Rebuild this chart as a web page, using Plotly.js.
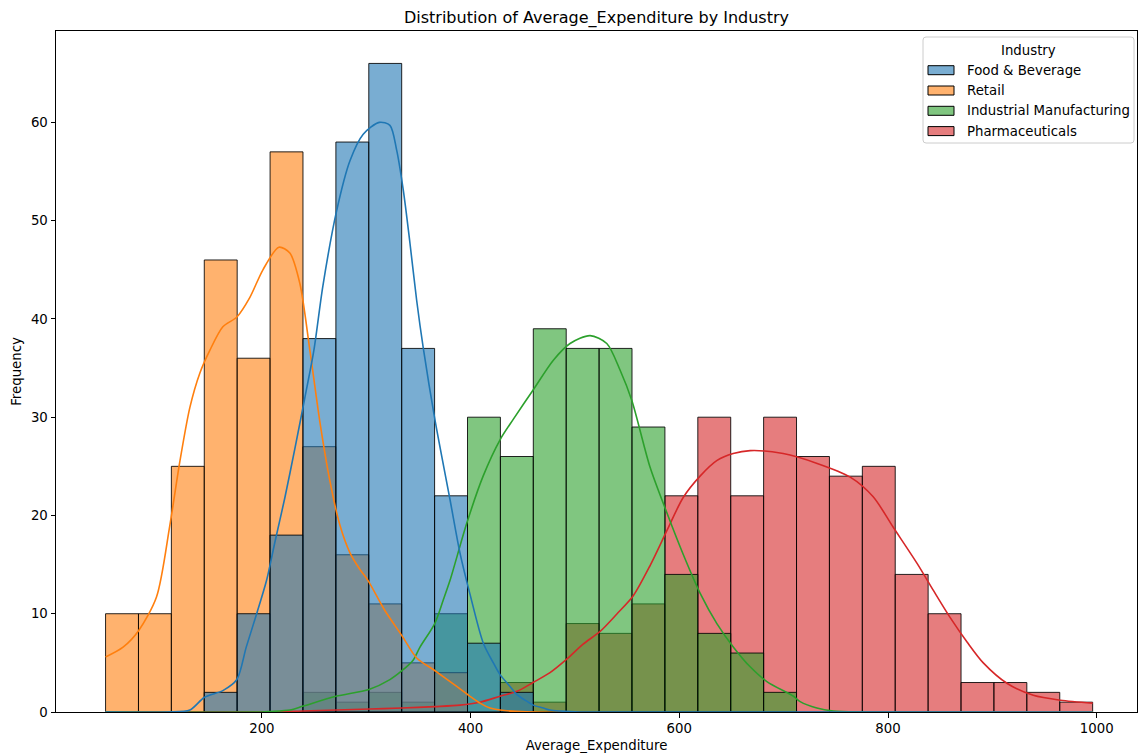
<!DOCTYPE html>
<html><head><meta charset="utf-8">
<script src="https://cdn.plot.ly/plotly-3.0.1.min.js"></script>
<style>html,body{margin:0;padding:0;background:#fff;} #chart{width:1138px;height:756px;}</style>
</head><body><div id="chart"></div>
<script>
// ---------- data ----------
const industries = ['Food & Beverage', 'Retail', 'Industrial Manufacturing', 'Pharmaceuticals'];
const binStart = 50.2;
const binWidth = 31.53;
const foodCounts   = [0,0,0,2,10,18,38,58,66,37,22,7,2,0,0,0,0,0,0,0,0,0,0,0,0,0,0,0,0,0];
const retailCounts = [10,10,25,46,36,57,27,16,11,5,4,0,0,0,0,0,0,0,0,0,0,0,0,0,0,0,0,0,0,0];
const industrialCounts = [0,0,0,0,0,0,2,1,2,1,10,30,26,39,37,37,29,14,8,6,2,0,0,0,0,0,0,0,0,0];
const pharmaCounts = [0,0,0,0,0,0,0,0,0,0,0,0,3,1,9,8,11,22,30,22,30,26,24,25,14,10,3,3,2,1];

const foodKdeX = [50,110,131,145,163,176,185,195,204.5,212.5,222,231.6,241.2,249.8,258.5,271.6,284.4,297.1,312.5,322.7,329.1,335.5,341.9,348.3,354.7,365.9,380.3,389.8,399.4,412.2,421.8,428.2,437.8,444.2,453.8,460.1,469.7,476.1,485.7,505,996.1];
const foodKdeY = [0,0,0.2,1.5,2.2,3.3,6.6,10,13.4,17.3,21.8,26.8,32,36.8,43.4,51,56.1,58.8,60,59.7,57.2,53.1,47.7,41.9,37,29.7,21.6,16.2,12,7,5,3.8,2.6,1.8,1.1,0.7,0.4,0.2,0.1,0,0];

const retailKdeX = [50.2,67,82,99,111.8,121.4,131,140.6,150.1,162.6,176,188.5,201,216.3,226.8,236.4,246,255.6,265.2,274.8,284.4,294,301.6,318,334,348.3,365.9,386.7,399.4,409,418.6,428.2,454,996.1];
const retailKdeY = [5.6,6.6,8.3,11.7,19,25.5,31,34.5,36.8,39.2,40.2,42.2,45,47.3,46.7,43.6,36.8,29.5,23.5,19,16.2,14.5,13.4,10.3,7.8,5.5,4.2,2.6,1.6,0.9,0.4,0.2,0.02,0];

const industrialKdeX = [50,200,207.7,226.8,239.6,270.9,302.6,322.7,334.2,345.1,351.5,365.6,373.8,380.3,396.3,412,428.2,441,460.1,479.3,495.3,514.5,530.5,543.2,554.5,572,588,603.9,619.9,636,651.9,667.9,683.9,709.4,715.8,731.8,747.7,773,996.1];
const industrialKdeY = [0,0,0.05,0.2,0.6,1.6,2.3,3.3,4.2,5.3,6.6,9,11.4,13.4,19.2,24,27.7,29.8,32.8,35.8,37.5,38.3,37.5,34.8,31.7,24.9,20.3,16,12.1,9,6.6,4.6,3.1,1.6,1.05,0.4,0.1,0,0];

const pharmaKdeX = [50,207.7,239.3,303.5,334.2,365.6,389.8,409,428.2,444.5,459.8,476.1,492.4,507.8,524.1,540.4,555.7,572,588.3,603.6,619.9,636.2,651.6,667.9,699.5,732.1,763.8,785.8,805,828,843.3,859.6,875.9,891.3,914.3,939.2,965.1,996.1];
const pharmaKdeY = [0,0,0.1,0.3,0.4,0.55,0.7,1.0,1.6,2.1,3.0,4.0,5.4,6.9,8.2,10,11.8,14.9,18.5,21.8,24,25.6,26.3,26.6,26.3,25.3,23.9,21.9,18.8,15.1,12.4,9.6,7.1,5,2.9,1.7,1.2,0.9];

const xTickVals = [200,400,600,800,1000];
const yTickVals = [0,10,20,30,40,50,60];

// ---------- styling ----------
const lineColors = ['#1f77b4','#ff7f0e','#2ca02c','#d62728'];
const fillColors = ['rgba(31,119,180,0.6)','rgba(255,127,14,0.6)','rgba(44,160,44,0.6)','rgba(214,39,40,0.6)'];
const counts = [foodCounts, retailCounts, industrialCounts, pharmaCounts];
const kdeX = [foodKdeX, retailKdeX, industrialKdeX, pharmaKdeX];
const kdeY = [foodKdeY, retailKdeY, industrialKdeY, pharmaKdeY];

const centers = foodCounts.map((_, i) => binStart + binWidth * (i + 0.5));
const order = [3, 2, 1, 0]; // draw last hue first so first hue is on top

const traces = [];
order.forEach(k => {
  traces.push({
    type: 'bar', x: centers, y: counts[k].map(v => v === 0 ? null : v),
    width: binWidth, name: industries[k],
    marker: {color: fillColors[k], line: {color: 'rgba(0,0,0,0.85)', width: 1}},
    hoverinfo: 'skip', showlegend: false
  });
});
order.forEach(k => {
  traces.push({
    type: 'scatter', mode: 'lines', x: kdeX[k], y: kdeY[k],
    line: {color: lineColors[k], width: 1.6, shape: 'spline', smoothing: 0.8},
    cliponaxis: false, hoverinfo: 'skip', showlegend: false
  });
});

// ---------- custom matplotlib-like legend ----------
const L = 56, R = 1137, T = 31, B = 712;
const px = v => (v - L) / (R - L);
const py = v => (B - v) / (B - T);
function roundRect(x0, y0, x1, y1, r) {
  const rx = r / (R - L), ry = r / (B - T);
  const X0 = px(x0), X1 = px(x1), Y0 = py(y0), Y1 = py(y1); // Y0 top (larger)
  return `M${X0+rx},${Y0} L${X1-rx},${Y0} Q${X1},${Y0} ${X1},${Y0-ry} L${X1},${Y1+ry} Q${X1},${Y1} ${X1-rx},${Y1} L${X0+rx},${Y1} Q${X0},${Y1} ${X0},${Y1+ry} L${X0},${Y0-ry} Q${X0},${Y0} ${X0+rx},${Y0} Z`;
}
const shapes = [{
  type: 'path', xref: 'paper', yref: 'paper', path: roundRect(923, 37, 1134, 143, 3),
  fillcolor: 'rgba(255,255,255,0.8)', line: {color: '#cccccc', width: 1}
}];
const annotations = [{
  xref: 'paper', yref: 'paper', x: px(1028.5), y: py(50), text: 'Industry',
  showarrow: false, xanchor: 'center', yanchor: 'middle', borderpad: 0,
  font: {family: 'DejaVu Sans', size: 13.3, color: '#000'}
}];
const rowY = [70.2, 90.5, 110.8, 131.1];
industries.forEach((name, k) => {
  shapes.push({
    type: 'rect', xref: 'paper', yref: 'paper',
    x0: px(928), x1: px(954), y0: py(rowY[k] + 4.5), y1: py(rowY[k] - 4.5),
    fillcolor: fillColors[k], line: {color: '#000', width: 1}
  });
  annotations.push({
    xref: 'paper', yref: 'paper', x: px(965.5), y: py(rowY[k]), text: name,
    showarrow: false, xanchor: 'left', yanchor: 'middle', borderpad: 0,
    font: {family: 'DejaVu Sans', size: 13.3, color: '#000'}
  });
});

const axisCommon = {
  ticks: 'outside', ticklen: 4.5, tickwidth: 1, tickcolor: '#000',
  showline: true, linecolor: '#000', linewidth: 1, mirror: true,
  showgrid: false, zeroline: false, automargin: false,
  tickfont: {family: 'DejaVu Sans', size: 13.3, color: '#000'}
};

const layout = {
  width: 1138, height: 756,
  margin: {l: L, r: 1138 - R, t: T, b: 756 - B},
  paper_bgcolor: '#ffffff', plot_bgcolor: '#ffffff',
  barmode: 'overlay', bargap: 0,
  showlegend: false,
  font: {family: 'DejaVu Sans', size: 13.3, color: '#000'},
  title: {text: 'Distribution of Average_Expenditure by Industry', font: {family: 'DejaVu Sans', size: 16, color: '#000'},
          x: 0.5, xref: 'paper', xanchor: 'center', y: 1 - 17 / 756, yref: 'container', yanchor: 'middle'},
  xaxis: Object.assign({}, axisCommon, {
    range: [2.7, 1038.6], tickvals: xTickVals, ticktext: xTickVals.map(String),
    title: {text: 'Average_Expenditure', standoff: 5, font: {family: 'DejaVu Sans', size: 13.3, color: '#000'}}
  }),
  yaxis: Object.assign({}, axisCommon, {
    range: [0, 69.3], tickvals: yTickVals, ticktext: yTickVals.map(String),
    title: {text: 'Frequency', standoff: 6, font: {family: 'DejaVu Sans', size: 13.3, color: '#000'}}
  }),
  shapes: shapes, annotations: annotations
};

Plotly.newPlot('chart', traces, layout, {displayModeBar: false, staticPlot: true});
</script>
</body></html>
